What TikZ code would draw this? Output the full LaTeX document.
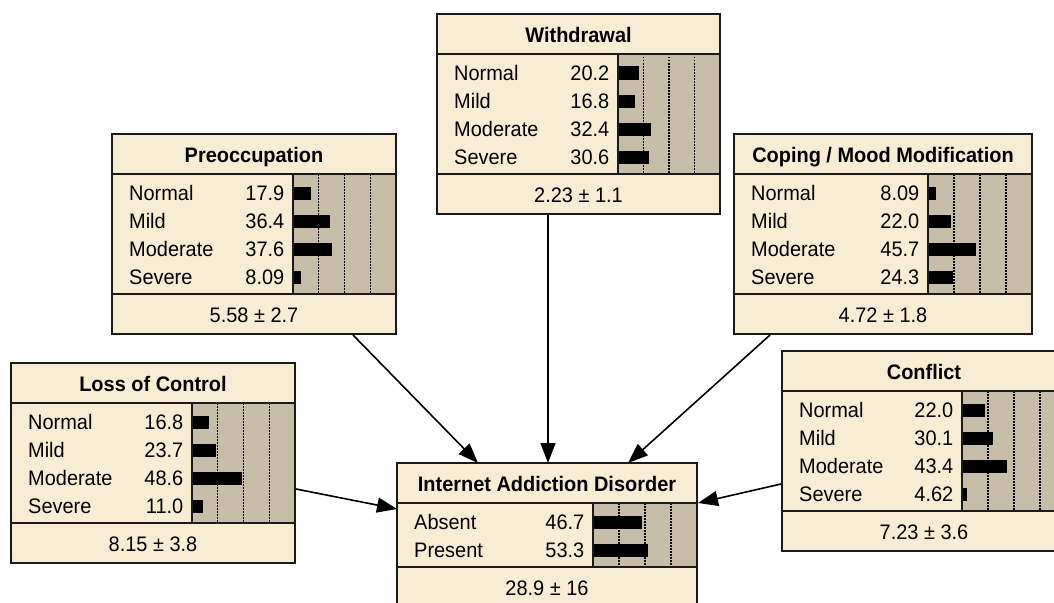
\documentclass[tikz,border=0pt]{standalone}
\usepackage{fontspec}
\setmainfont[FakeStretch=0.95]{Liberation Sans}
\usetikzlibrary{arrows.meta}
\definecolor{cream}{HTML}{F7EDD5}
\definecolor{graybar}{HTML}{C6BDA9}
\definecolor{framec}{HTML}{1A1A1A}
\tikzset{
  frame/.style={draw=framec, line width=1.8pt},
  dotline/.style={black, line width=1.2pt, dash pattern=on 1.5pt off 1.5pt},
  rowtxt/.style={inner sep=0pt, font=\fontsize{21}{25}\selectfont},
  titletxt/.style={inner sep=0pt, font=\fontsize{21}{25}\selectfont\bfseries},
  outline/.style={inner sep=0pt, draw=none, anchor=north west},
  arr/.style={black, line width=1.6pt, -{Triangle[length=20pt,width=15pt]}}
}
% #1 id #2 left #3 top #4 barleft #5 right #6 nrows #7 title #8 rows #9 stats
\newcommand\bnbox[9]{%
  \pgfmathsetmacro\tA{#3+40}%
  \pgfmathsetmacro\tB{#3+40+28*#6+8}%
  \pgfmathsetmacro\tC{\tB+40}%
  \pgfmathsetmacro\bw{#5-#4}%
  \pgfmathsetmacro\cx{(#2+#5)/2}%
  \pgfmathsetmacro\bh{\tC-#3}%
  \pgfmathsetmacro\bwid{#5-#2}%
  \fill[cream] (#2,#3) rectangle (#5,\tC);
  \fill[graybar] (#4,\tA) rectangle (#5,\tB);
  \foreach \f in {0.25,0.5,0.75} \draw[dotline] ({#4+\f*\bw},\tA) -- ({#4+\f*\bw},\tB);
  \foreach \lab/\val [count=\i from 0] in {#8} {
    \pgfmathsetmacro\ry{#3+40+18.5+28*\i}
    \node[rowtxt, anchor=base west] (#1-l\i) at (#2+17, \ry+7.5) {\lab};
    \node[rowtxt, anchor=base east] (#1-v\i) at (#4-8.5, \ry+7.5) {\val};
    \fill[black] (#4, \ry-6) rectangle ({#4+\val/100*\bw}, \ry+7);
  }
  \draw[frame] (#2,#3) rectangle (#5,\tC);
  \draw[frame] (#2,\tA) -- (#5,\tA) (#2,\tB) -- (#5,\tB) (#4,\tA) -- (#4,\tB);
  \node[titletxt, anchor=base] (#1-t) at (\cx, #3+28.5) {#7};
  \node[rowtxt, anchor=base] (#1-s) at (\cx, \tB+28) {#9};
  \node[outline, minimum width=\bwid pt, minimum height=\bh pt] (#1) at (#2,#3) {};
}
\begin{document}
\begin{tikzpicture}[x=1pt, y=-1pt]
\fill[white] (0,0) rectangle (1054,602);
\clip (0,0) rectangle (1054,602);

\bnbox{wd}{437}{14}{618}{720}{4}{Withdrawal}{Normal/20.2, Mild/16.8, Moderate/32.4, Severe/30.6}{2.23 ± 1.1}
\bnbox{pre}{112}{134}{293}{396}{4}{Preoccupation}{Normal/17.9, Mild/36.4, Moderate/37.6, Severe/8.09}{5.58 ± 2.7}
\bnbox{cop}{734}{134}{928}{1032}{4}{Coping / Mood Modification}{Normal/8.09, Mild/22.0, Moderate/45.7, Severe/24.3}{4.72 ± 1.8}
\bnbox{loc}{11}{363}{192}{295}{4}{Loss of Control}{Normal/16.8, Mild/23.7, Moderate/48.6, Severe/11.0}{8.15 ± 3.8}
\bnbox{con}{782}{351}{962}{1066}{4}{Conflict}{Normal/22.0, Mild/30.1, Moderate/43.4, Severe/4.62}{7.23 ± 3.6}
\bnbox{iad}{397}{463}{593}{697}{2}{Internet Addiction Disorder}{Absent/46.7, Present/53.3}{28.9 ± 16}

\coordinate (pre-out) at (353,335);
\coordinate (wd-out) at (548,215);
\coordinate (cop-out) at (770,335);
\coordinate (loc-out) at (296,489);
\coordinate (con-out) at (781,484);
\coordinate (iad-a) at (478,463);
\coordinate (iad-b) at (548,463);
\coordinate (iad-c) at (628,463);
\coordinate (iad-d) at (397,509);
\coordinate (iad-e) at (698,503);

\draw[arr] (pre-out) -- (iad-a);
\draw[arr] (wd-out) -- (iad-b);
\draw[arr] (cop-out) -- (iad-c);
\draw[arr] (loc-out) -- (iad-d);
\draw[arr] (con-out) -- (iad-e);
\end{tikzpicture}
\end{document}
